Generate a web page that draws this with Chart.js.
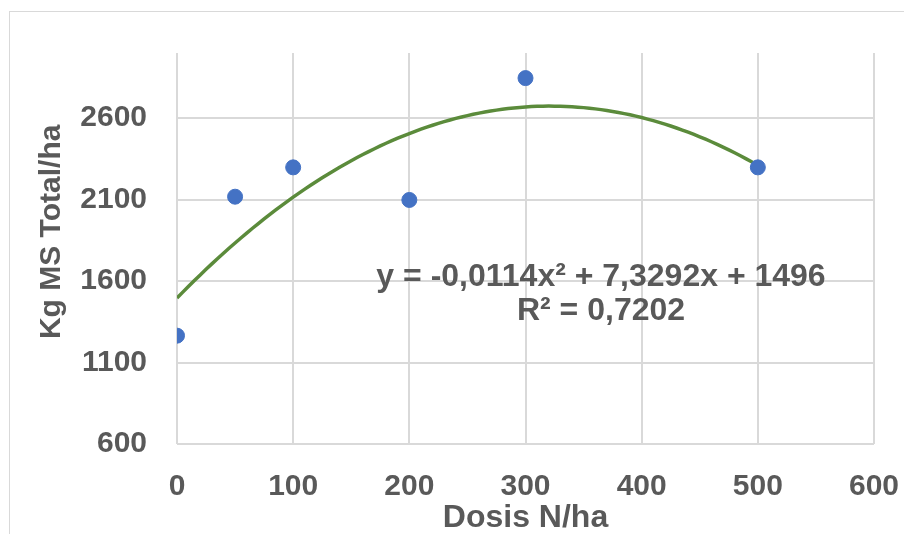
<!DOCTYPE html>
<html>
<head>
<meta charset="utf-8">
<script src="https://cdn.jsdelivr.net/npm/chart.js@4"></script>
<style>
  body { margin: 0; background: #fff; overflow: hidden; }
  #wrap { position: relative; width: 904px; height: 534px; overflow: hidden; }
  #frame { position: absolute; left: 9px; top: 11px; width: 1000px; height: 700px; border: 1px solid #d9d9d9; }
  #c { position: absolute; left: 0; top: 0; }
</style>
</head>
<body>
<div id="wrap">
  <div id="frame"></div>
  <canvas id="c" width="904" height="534"></canvas>
</div>
<script>
// data
const dosis = [0, 50, 100, 200, 300, 500];
const kgMS = [1265, 2118, 2298, 2098, 2846, 2298];
const yTicks = [600, 1100, 1600, 2100, 2600];
const xTicks = [0, 100, 200, 300, 400, 500, 600];
// polynomial trendline shown on the chart: a*x^2 + b*x + c
const trendCoef = [-0.0114, 7.3292, 1496];
const trendLabel = ['y = -0,0114x\u00B2 + 7,3292x + 1496', 'R\u00B2 = 0,7202'];

const textColor = '#595959';
const gridColor = '#d9d9d9';
const fontFamily = '"Liberation Sans", Arial, sans-serif';

const trendPoints = [];
for (let x = 0; x <= 500; x += 5) {
    trendPoints.push({ x: x, y: trendCoef[0] * x * x + trendCoef[1] * x + trendCoef[2] });
}

const equationPlugin = {
    id: 'equation',
    afterDatasetsDraw(chart) {
        const ctx = chart.ctx;
        const xs = chart.scales.x, ys = chart.scales.y;
        const cx = xs.getPixelForValue(365);
        ctx.save();
        ctx.fillStyle = textColor;
        ctx.font = 'bold 32px ' + fontFamily;
        ctx.textAlign = 'center';
        ctx.textBaseline = 'middle';
        ctx.fillText(trendLabel[0], cx, ys.getPixelForValue(1600) - 4);
        ctx.fillText(trendLabel[1], cx, ys.getPixelForValue(1600) + 30);
        ctx.restore();
    }
};

new Chart(document.getElementById('c'), {
    data: {
        datasets: [{
            type: 'line',
            label: 'Tendencia',
            data: trendPoints,
            borderColor: '#5b8b3b',
            borderWidth: 3.5,
            pointRadius: 0,
            tension: 0,
            order: 2
        }, {
            type: 'scatter',
            label: 'Kg MS Total/ha',
            data: dosis.map((d, i) => ({ x: d, y: kgMS[i] })),
            backgroundColor: '#4472c4',
            borderColor: '#4472c4',
            pointRadius: 7.5,
            order: 1
        }]
    },
    options: {
        responsive: false,
        animation: false,
        layout: { padding: { left: 0, right: 30, top: 53, bottom: 0 } },
        plugins: {
            legend: { display: false },
            tooltip: { enabled: false }
        },
        scales: {
            x: {
                type: 'linear',
                min: 0,
                max: 600,
                afterBuildTicks: s => { s.ticks = xTicks.map(v => ({ value: v })); },
                afterFit: s => { s.height = 90; s.paddingLeft = 0; s.paddingRight = 0; },
                grid: { color: gridColor, lineWidth: 2, drawTicks: false },
                border: { display: false },
                ticks: {
                    color: textColor,
                    padding: 25,
                    callback: v => String(v),
                    font: { family: fontFamily, size: 30, weight: 'bold' }
                },
                title: {
                    display: true,
                    text: 'Dosis N/ha',
                    color: textColor,
                    padding: { top: 0, bottom: 0 },
                    font: { family: fontFamily, size: 32, weight: 'bold', lineHeight: 1 }
                }
            },
            y: {
                type: 'linear',
                min: 600,
                max: 3000,
                afterBuildTicks: s => { s.ticks = yTicks.map(v => ({ value: v })); },
                afterFit: s => { s.width = 177; s.paddingTop = 0; s.paddingBottom = 0; },
                grid: { color: gridColor, lineWidth: 2, drawTicks: false },
                border: { display: false },
                ticks: {
                    color: textColor,
                    padding: 30,
                    callback: v => String(v),
                    font: { family: fontFamily, size: 30, weight: 'bold' }
                },
                title: {
                    display: true,
                    text: '\u00A0\u00A0\u00A0\u00A0Kg MS Total/ha',
                    color: textColor,
                    padding: { top: 37, bottom: 0 },
                    font: { family: fontFamily, size: 30, weight: 'bold', lineHeight: 1 }
                }
            }
        }
    },
    plugins: [equationPlugin]
});
</script>
</body>
</html>
